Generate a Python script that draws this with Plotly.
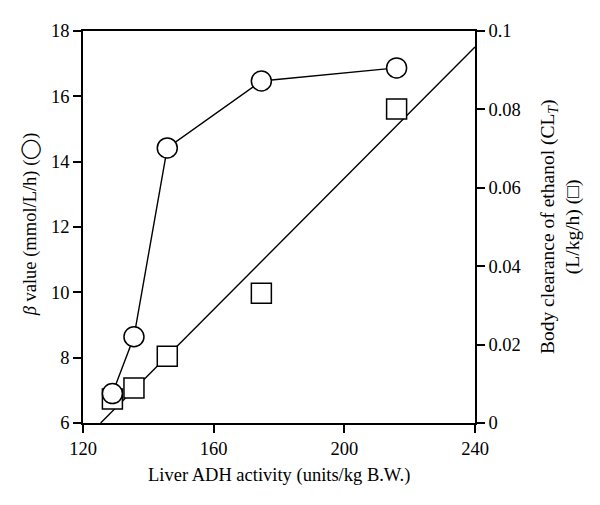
import plotly.graph_objects as go

adh = [129, 135.6, 145.8, 174.6, 216]
beta = [6.9, 8.64, 14.42, 16.47, 16.87]
clt = [0.0061, 0.0089, 0.017, 0.0331, 0.0801]
# regression line for CL_T vs ADH
reg_x = [125.4, 240]
reg_slope = 0.000837
reg_x0 = 125.4
reg_y = [reg_slope * (x - reg_x0) for x in reg_x]

xticks = [120, 160, 200, 240]
lticks = [6, 8, 10, 12, 14, 16, 18]
rticks = [0, 0.02, 0.04, 0.06, 0.08, 0.1]
rticktext = ["0", "0.02", "0.04", "0.06", "0.08", "0.1"]

FONT = "Liberation Serif"
fig = go.Figure()
fig.add_trace(go.Scatter(x=reg_x, y=reg_y, mode="lines", yaxis="y",
                         line=dict(color="black", width=1.4), showlegend=False))
fig.add_trace(go.Scatter(x=adh, y=clt, mode="markers", yaxis="y",
                         marker=dict(symbol="square", size=20, color="white",
                                     line=dict(color="black", width=1.5)),
                         showlegend=False, cliponaxis=False))
fig.add_trace(go.Scatter(x=adh, y=beta, mode="lines+markers", yaxis="y2",
                         line=dict(color="black", width=1.4),
                         marker=dict(symbol="circle", size=20, color="white",
                                     line=dict(color="black", width=1.5)),
                         showlegend=False, cliponaxis=False))

axis_common = dict(showline=True, linecolor="black", linewidth=1.5, ticks="outside",
                   ticklen=8, tickwidth=1.5, tickcolor="black", showgrid=False,
                   zeroline=False, tickfont=dict(family=FONT, size=18.5, color="black"))

fig.update_layout(
    width=592, height=497,
    margin=dict(l=75, r=125, t=23, b=82),
    plot_bgcolor="white", paper_bgcolor="white",
    xaxis=dict(range=[120, 240], tickvals=xticks, mirror=True, **axis_common),
    yaxis=dict(range=[0, 0.1], tickvals=rticks, ticktext=rticktext,
               side="right", **axis_common),
    yaxis2=dict(range=[6, 18], tickvals=lticks, side="left", overlaying="y", **axis_common),
    annotations=[
        dict(text="Liver ADH activity (units/kg B.W.)", xref="paper", yref="paper",
             x=0.5, y=-0.133, xanchor="center", yanchor="middle", showarrow=False,
             font=dict(family=FONT, size=18.5, color="black")),
        dict(text="<i>β</i> value (mmol/L/h) (◯)", xref="paper", yref="paper",
             x=-0.135, y=0.507, xanchor="center", yanchor="middle", textangle=-90, showarrow=False,
             font=dict(family=FONT, size=18.5, color="black")),
        dict(text="Body clearance of ethanol (CL<sub><i>T</i></sub>)<br>(L/kg/h) (□)",
             xref="paper", yref="paper", x=1.217, y=0.5, xanchor="center", yanchor="middle",
             textangle=-90, showarrow=False,
             font=dict(family=FONT, size=19.5, color="black")),
    ],
)
fig.write_html("out.html")
